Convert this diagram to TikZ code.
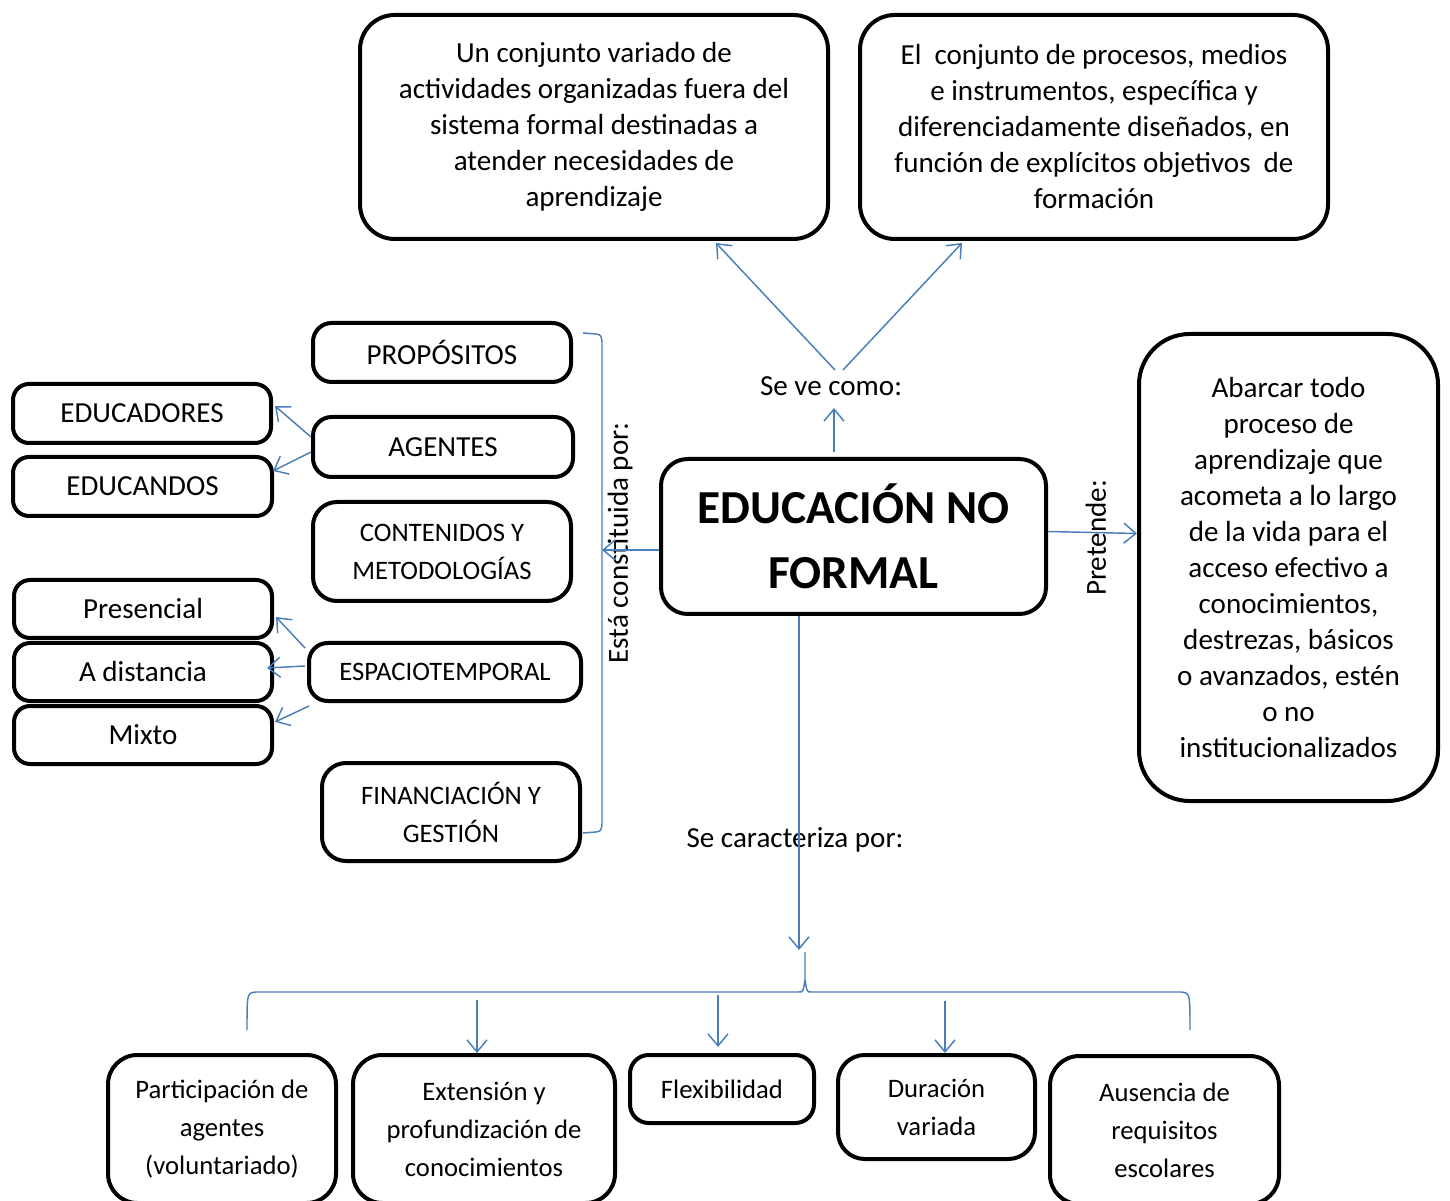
\documentclass[tikz,border=0pt]{standalone}
\usepackage{fontspec}
\setmainfont{Carlito}
\usetikzlibrary{arrows.meta,calc}
\definecolor{lb}{HTML}{4A7EBB}
\begin{document}
\begin{tikzpicture}[x=0.75pt,y=-0.75pt,
  box/.style={draw,line width=3pt,rounded corners=20pt,inner sep=0pt,align=center,font=\fontsize{21.8}{27}\selectfont},
  smallbox/.style={box,font=\fontsize{20}{28.5}\selectfont},
  sz/.style 2 args={minimum width=#1*0.75pt,minimum height=#2*0.75pt},
  conn/.style={draw=lb,line width=1.1pt},
  arr/.style={conn,-{Straight Barb[length=9pt,width=15pt,line width=1.1pt]}},
  lbl/.style={inner sep=0pt,font=\fontsize{21.8}{27}\selectfont}]
\useasboundingbox (0,0) rectangle (1450,1201);
\clip (0,0) rectangle (1450,1201);
\fill[white] (0,0) rectangle (1450,1201);
% top boxes
\node[box,rounded corners=26pt,sz={468}{224}] (tl) at (594,127) {Un conjunto variado de\\actividades organizadas fuera del\\sistema formal destinadas a\\atender necesidades de\\aprendizaje};
\node[box,rounded corners=26pt,sz={468}{224}] (tr) at (1094,127) {El \ conjunto de procesos, medios\\e instrumentos, específica y\\diferenciadamente diseñados, en\\función de explícitos objetivos \ de\\formación};
% central
\node[box,sz={385}{155},font=\fontsize{35.5}{49}\selectfont\bfseries] (cen) at (853.5,536.5) {EDUCACIÓN NO\\FORMAL};
% right box
\node[box,rounded corners=38pt,sz={299}{467}] (rb) at (1288.5,567.5) {Abarcar todo\\proceso de\\aprendizaje que\\acometa a lo largo\\de la vida para el\\acceso efectivo a\\conocimientos,\\destrezas, básicos\\o avanzados, estén\\o no\\institucionalizados};
% middle column
\node[box,rounded corners=14pt,sz={258}{59}] (prop) at (442,352.5) {PROPÓSITOS};
\node[box,rounded corners=14pt,sz={260}{60}] (ag) at (443,447) {AGENTES};
\node[smallbox,rounded corners=18pt,sz={258}{99}] (cont) at (442,551.5) {CONTENIDOS Y\\METODOLOGÍAS};
\node[box,rounded corners=14pt,sz={272}{58},font=\fontsize{20}{28}\selectfont] (esp) at (445,672) {ESPACIOTEMPORAL};
\node[smallbox,rounded corners=18pt,sz={258}{98}] (fin) at (451,812) {FINANCIACIÓN Y\\GESTIÓN};
% left column
\node[box,rounded corners=12pt,sz={258}{59}] (edr) at (142,413.5) {EDUCADORES};
\node[box,rounded corners=12pt,sz={259}{59}] (edo) at (142.5,486.5) {EDUCANDOS};
\node[box,rounded corners=12pt,sz={258}{58}] (pres) at (143,609) {Presencial};
\node[box,rounded corners=12pt,sz={258}{58}] (dist) at (143,672) {A distancia};
\node[box,rounded corners=12pt,sz={258}{58}] (mix) at (143,735) {Mixto};
% bottom boxes
\node[smallbox,rounded corners=22pt,sz={228}{148}] (part) at (222,1129) {Participación de\\agentes\\(voluntariado)};
\node[smallbox,rounded corners=22pt,sz={262}{148}] (ext) at (484,1129) {Extensión y\\profundización de\\conocimientos};
\node[smallbox,rounded corners=14pt,sz={184}{68}] (flex) at (722,1089) {Flexibilidad};
\node[smallbox,rounded corners=20pt,sz={197}{104}] (dur) at (936.5,1107) {Duración\\variada};
\node[smallbox,rounded corners=22pt,sz={229}{148}] (aus) at (1164.5,1130) {Ausencia de\\requisitos\\escolares};
% labels
\node[lbl] (sv) at (831,386) {Se ve como:};
\node[lbl,rotate=90] (pre) at (1096,538) {Pretende:};
\node[lbl,rotate=90] (est) at (620,543) {Está constituida por:};
\node[lbl] (car) at (795,840) {Se caracteriza por:};
% coordinates
\coordinate (lbm) at (602,550);
\coordinate (bt) at (799,950);
\coordinate (b1) at (477,1000);
\coordinate (b2) at (718,995);
\coordinate (b3) at (945,1001);
% connectors
\draw[arr] ($(cen.north)+(-19.5,-5)$) -- ($(sv.center)+(3,22)$);
\draw[arr] ($(sv.center)+(4,-16)$) -- ($(tl.south)+(122,2)$);
\draw[arr] ($(sv.center)+(12,-16)$) -- ($(tr.south)+(-132,2)$);
\draw[arr] ($(cen.east)+(0,-5)$) -- ($(rb.west)+(0,-34)$);
\draw[arr] ($(cen.west)+(0,13.5)$) -- (lbm);
\draw[arr] (cen.south -| bt) -- (bt);
% left brace
\draw[conn] (583,333) -- (596,334) .. controls (601,335) .. (602,342) -- (602,824) .. controls (601,831) .. (596,832) -- (583,833);
% bottom brace
\draw[conn] (247,1030) .. controls (247,993) .. (256,992) -- (799,992) .. controls (803,992) .. (805,980) -- (805,952);
\draw[conn] (1190,1030) .. controls (1190,993) .. (1181,992) -- (811,992) .. controls (807,992) .. (805,980);
% agents / espaciotemporal arrows
\draw[arr] ($(ag.west)+(0,-10)$) -- ($(edr.east)+(2,-7.5)$);
\draw[arr] ($(ag.west)+(0,5)$) -- ($(edo.east)+(-1,-15.5)$);
\draw[arr] ($(esp.west)+(-2,-24)$) -- ($(pres.east)+(2,8)$);
\draw[arr] ($(esp.west)+(-2,-6)$) -- ($(dist.east)+(-7,-4)$);
\draw[arr] ($(esp.south west)+(2,3)$) -- ($(mix.east)+(1,-13)$);
% bottom arrows
\draw[arr] (b1) -- (b1 |- ext.north);
\draw[arr] (b2) -- ($(b2 |- flex.north)+(0,-6)$);
\draw[arr] (b3) -- (b3 |- dur.north);
\end{tikzpicture}
\end{document}
